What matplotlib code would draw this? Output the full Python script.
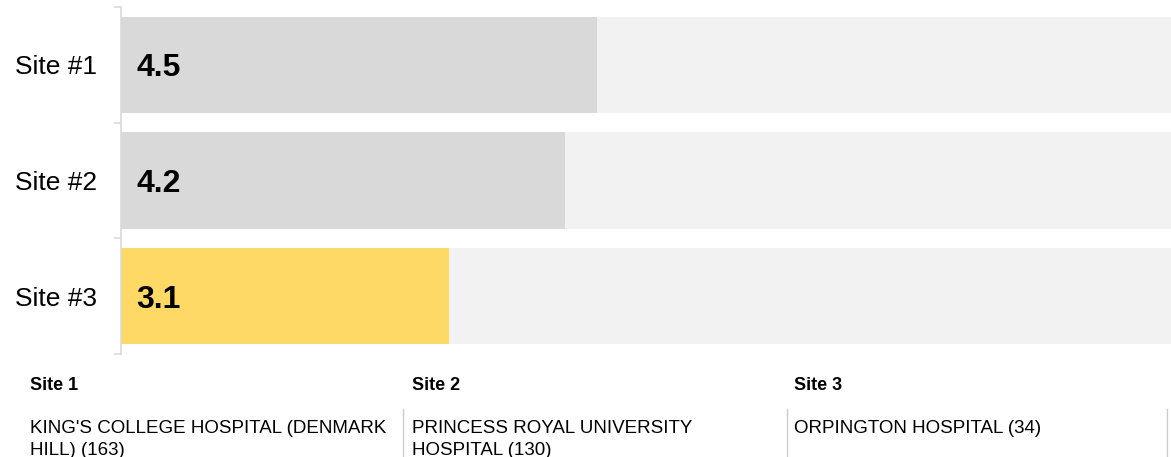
import textwrap

import matplotlib.pyplot as plt
from matplotlib.lines import Line2D

plt.rcParams['font.family'] = ['Liberation Sans', 'DejaVu Sans']

# scores per site, out of 10
sites = ['Site #1', 'Site #2', 'Site #3']
scores = [4.5, 4.2, 3.1]
bar_colors = ['#d9d9d9', '#d9d9d9', '#fed966']
max_score = 10

# footer: which hospital each site is, with its count
footer_titles = ['Site 1', 'Site 2', 'Site 3']
hospitals = ["KING'S COLLEGE HOSPITAL (DENMARK HILL)",
             'PRINCESS ROYAL UNIVERSITY HOSPITAL',
             'ORPINGTON HOSPITAL']
counts = [163, 130, 34]

W, H = 1171, 457
fig = plt.figure(figsize=(W / 100, H / 100), dpi=100)


def fx(px):
    return px / W


def fy(py):
    return 1 - py / H


ax = fig.add_axes([fx(121), fy(354), fx(1171) - fx(121), fy(7) - fy(354)])

ypos = list(range(len(sites)))
ax.barh(ypos, [max_score] * len(sites), height=0.83, color='#f2f2f2')
ax.barh(ypos, scores, height=0.83, color=bar_colors)

for y, s in zip(ypos, scores):
    ax.annotate(f'{s:.1f}', xy=(0, y), xytext=(11, 0), textcoords='offset points',
                va='center_baseline', ha='left', fontsize=23, fontweight='bold')

ax.set_xlim(0, 9.93)
ax.set_ylim(len(sites) - 0.5, -0.5)
ax.set_yticks(ypos, sites, fontsize=19)
ax.set_yticks([i - 0.5 for i in range(len(sites) + 1)], minor=True)
ax.tick_params(axis='y', which='major', length=0, pad=17)
ax.tick_params(axis='y', which='minor', length=5, color='#d9d9d9', width=1.2)
ax.set_xticks([])
for side in ['top', 'right', 'bottom']:
    ax.spines[side].set_visible(False)
ax.spines['left'].set_color('#d9d9d9')
ax.spines['left'].set_linewidth(1.2)

# footer columns
col_x = [30, 412, 794]
sep_x = [403, 787, 1167]
for x, title, name, n in zip(col_x, footer_titles, hospitals, counts):
    fig.text(fx(x), fy(385), title, fontsize=13, fontweight='bold', va='center')
    fig.text(fx(x), fy(420), textwrap.fill(f'{name} ({n})', 32),
             fontsize=13.5, va='top', ha='left', linespacing=1.4)
for x in sep_x:
    fig.add_artist(Line2D([fx(x), fx(x)], [fy(409), 0], transform=fig.transFigure,
                          color='#cccccc', linewidth=1))

fig.savefig('out.png', dpi=100)
